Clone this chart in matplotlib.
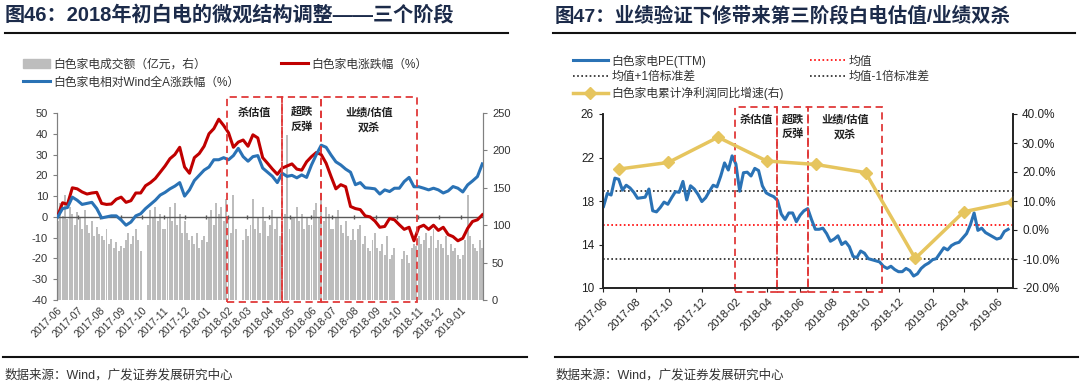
import numpy as np
import pandas as pd
import matplotlib
matplotlib.use('Agg')
import matplotlib.pyplot as plt
import matplotlib.dates as mdates
from matplotlib.patches import Rectangle, Patch
from matplotlib.lines import Line2D

plt.rcParams['font.family'] = ['Liberation Sans', 'Noto Sans CJK SC']
plt.rcParams['axes.unicode_minus'] = False

# ---------------- left chart data (weekly lines, twice-weekly bars) ----------------
red_vals = [0.5, 6.8, 6.0, 14.0, 13.5, 12.0, 11.0, 11.5, 11.8, 6.5,
            6.0, 6.2, 8.5, 9.5, 7.0, 7.8, 11.5, 11.5, 15.0, 16.5,
            18.5, 21.5, 24.5, 28.0, 30.0, 33.5, 24.0, 21.0, 28.5, 30.5,
            34.0, 40.0, 42.5, 47.0, 44.0, 40.5, 33.5, 36.0, 37.0, 34.0,
            39.5, 38.0, 28.5, 25.8, 23.0, 20.5, 23.5, 24.5, 25.5, 23.0,
            22.5, 26.5, 29.0, 31.0, 30.0, 25.8, 19.5, 13.5, 15.5, 14.5,
            5.0, 4.0, 3.5, 0.5, 0.0, -2.0, -5.0, -4.6, -0.8, -1.4,
            -3.8, -6.0, -5.0, -11.5, -5.0, -4.0, -6.0, -4.0, -6.5, -5.0,
            -8.5, -9.5, -11.5, -10.3, -5.5, -2.2, -1.4, 1.0]
blue_vals = [0.0, 4.0, 4.5, 9.5, 8.0, 6.0, 6.5, 7.0, 4.0, -0.5,
             0.0, 0.5, 0.5, -1.5, -4.0, -2.5, 0.5, 1.5, 4.0, 6.0,
             8.0, 10.5, 11.8, 13.5, 14.8, 16.5, 10.0, 13.0, 17.5, 20.0,
             22.5, 24.0, 27.5, 27.5, 28.5, 27.5, 29.5, 33.0, 29.0, 26.8,
             29.0, 29.5, 23.5, 21.5, 19.5, 16.5, 21.0, 19.5, 20.0, 18.8,
             20.2, 19.0, 25.0, 30.0, 34.5, 33.5, 29.8, 26.5, 25.0, 23.0,
             21.5, 15.5, 16.5, 14.0, 13.8, 13.5, 11.0, 13.0, 12.2, 13.8,
             13.8, 17.0, 19.0, 14.5, 14.5, 13.8, 13.0, 13.8, 13.0, 11.5,
             12.5, 14.6, 13.8, 12.0, 15.4, 17.3, 19.4, 25.5]
line_dates = pd.date_range('2017-06-02', periods=len(red_vals), freq='7D')

# turnover (亿元), two bars per week, 0 = holiday
bar_vals = (
    [105, 130, 112, 140, 108, 125, 115, 100, 118] +      # 2017-06
    [110, 95, 120, 100, 90, 105, 85, 98, 88] +           # 2017-07
    [85, 80, 95, 75, 82, 70, 78, 65] +                   # 2017-08
    [72, 70, 80, 90, 75, 85, 95, 80, 65] +               # 2017-09
    [0, 0, 100, 120, 110, 125, 105, 115, 95] +           # 2017-10
    [95, 110, 125, 105, 130, 100, 115, 90] +             # 2017-11
    [105, 90, 80, 85, 75, 90, 70, 80, 85] +              # 2017-12
    [78, 110, 120, 100, 130, 115, 125, 105, 135] +       # 2018-01
    [110, 90, 140, 95, 0, 0, 80, 95] +                   # 2018-02
    [85, 100, 135, 95, 110, 90, 125, 105, 85] +          # 2018-03
    [100, 120, 95, 110, 85, 100, 115, 220, 95] +         # 2018-04
    [110, 110, 125, 105, 115, 95, 110, 100] +            # 2018-05
    [100, 120, 130, 110, 140, 105, 125, 115, 95] +       # 2018-06
    [95, 110, 120, 100, 90, 105, 85, 80, 95] +           # 2018-07
    [80, 95, 100, 75, 85, 70, 65, 80, 90] +              # 2018-08
    [70, 65, 75, 60, 85, 55, 60, 70] +                   # 2018-09
    [0, 0, 55, 65, 60, 50, 70, 75, 72] +                 # 2018-10
    [85, 75, 80, 90, 70, 85, 95, 70, 80] +               # 2018-11
    [75, 70, 85, 60, 75, 65, 70, 60, 55] +               # 2018-12
    [60, 80, 140, 85, 75, 70, 65, 80] +                  # 2019-01
    [70])
bar_dates = pd.date_range('2017-06-02', periods=len(bar_vals), freq='84h')

stage_dates = pd.to_datetime(['2018-01-31', '2018-04-20', '2018-06-15', '2018-10-30'])
stage_names = ['杀估值', '超跌\n反弹', '业绩/估值\n双杀']

# ---------------- right chart data ----------------
pe_vals = [17.5, 18.7, 18.55, 20.1, 20.0, 19.0, 19.45, 19.2, 18.8, 18.25,
           18.3, 18.35, 19.1, 17.1, 17.0, 17.4, 17.9, 17.7, 18.3, 18.85,
           18.8, 19.8, 18.1, 19.4, 19.1, 18.6, 17.95, 18.3, 18.9, 19.45,
           19.3, 20.3, 21.5, 20.85, 22.15, 21.4, 18.9, 20.6, 20.65, 20.3,
           21.0, 20.8, 19.4, 18.75, 18.55, 18.4, 18.05, 16.8, 16.3, 16.9,
           16.9, 16.1, 16.7, 17.1, 17.3, 16.3, 15.4, 15.4, 15.5, 15.0,
           14.3, 14.5, 14.8, 14.0, 14.25, 13.8, 12.9, 12.8, 13.4, 13.2,
           12.7, 12.6, 12.5, 12.4, 12.0, 11.8, 12.0, 11.7, 11.5, 11.5,
           11.8, 11.6, 11.1, 11.3, 11.8, 12.1, 12.3, 12.6, 12.7, 13.2,
           13.7, 13.5, 13.9, 14.1, 14.2, 14.6, 15.0, 15.8, 16.9, 15.3,
           15.5, 15.1, 14.9, 14.7, 14.5, 14.6, 15.2, 15.4]
pe_dates = pd.date_range('2017-06-02', periods=len(pe_vals), freq='7D')
pe_mean = 15.8
pe_std = 3.15

growth_dates = pd.to_datetime(['2017-06-30', '2017-09-30', '2017-12-31', '2018-03-31',
                               '2018-06-30', '2018-09-30', '2018-12-31', '2019-03-31',
                               '2019-06-30'])
growth_vals = [21.0, 23.3, 32.0, 23.8, 22.6, 19.8, -9.8, 6.3, 9.8]

RED = '#C00000'
BLUE = '#2A72B5'
GRAY = '#BDBDBD'
YELLOW = '#E6C55E'
BOX = '#E03A3A'
TITLE = '#1C2B4A'

fig = plt.figure(figsize=(10.8, 3.86), dpi=100)

# ================= left chart =================
axL = fig.add_axes([57 / 1080, 1 - 300 / 386, 426 / 1080, 187 / 386])
axR = axL.twinx()
axR.bar(bar_dates, bar_vals, width=2.8, color=GRAY, linewidth=0)
axL.set_zorder(axR.get_zorder() + 1)
axL.patch.set_visible(False)

axL.axhline(0, color='#595959', lw=1.0, zorder=1)
month_ticks = pd.date_range('2017-06-01', '2019-01-01', freq='MS')
axL.plot(month_ticks, np.zeros(len(month_ticks)), ls='none', marker='|',
         ms=3, color='#595959', zorder=1)
axL.plot(line_dates, red_vals, color=RED, lw=2.2, zorder=3)
axL.plot(line_dates, blue_vals, color=BLUE, lw=2.2, zorder=3)

axL.set_ylim(-40, 50)
axL.set_yticks(range(-40, 51, 10))
axR.set_ylim(0, 250)
axR.set_yticks(range(0, 251, 50))
axL.set_xlim(pd.Timestamp('2017-06-01'), pd.Timestamp('2019-02-02'))
axL.set_xticks(month_ticks)
axL.xaxis.set_major_formatter(mdates.DateFormatter('%Y-%m'))
for lab in axL.get_xticklabels():
    lab.set_rotation(45)
    lab.set_ha('right')
    lab.set_rotation_mode('anchor')
axL.tick_params(axis='x', length=0, pad=4, labelsize=7.5, colors='#333333')
axL.tick_params(axis='y', length=3, labelsize=8, colors='#333333', color='#808080')
axR.tick_params(axis='y', length=3, labelsize=8, colors='#333333', color='#808080')
for a in (axL, axR):
    a.spines['top'].set_visible(False)
    a.spines['bottom'].set_visible(False)
    a.spines['left'].set_color('#808080')
    a.spines['right'].set_color('#808080')

for k in range(3):
    x0 = mdates.date2num(stage_dates[k])
    x1 = mdates.date2num(stage_dates[k + 1])
    axL.add_patch(Rectangle((x0, -41), x1 - x0, 98.7, fill=False, ec=BOX, lw=1.3,
                            ls=(0, (4, 2.5)), clip_on=False, zorder=4))
    axL.text((x0 + x1) / 2, 53.0, stage_names[k], ha='center', va='top', fontsize=8,
             color='#222222', fontweight='bold', linespacing=1.5, clip_on=False)

hL = [Patch(color=GRAY), Line2D([], [], color=BLUE, lw=2.2), Line2D([], [], color=RED, lw=2.2)]
fig.legend(hL, ['白色家电成交额（亿元，右）', '白色家电相对Wind全A涨跌幅（%）', '白色家电涨跌幅（%）'],
           ncol=2, loc='upper left', bbox_to_anchor=(12 / 1080, 1 - 48 / 386), frameon=False,
           fontsize=8.5, handlelength=2.3, handletextpad=0.3, columnspacing=3.5,
           labelspacing=0.5, labelcolor='#333333')

# ================= right chart =================
ax = fig.add_axes([603 / 1080, 1 - 288 / 386, 410 / 1080, 174 / 386])
ax2 = ax.twinx()
ax.plot(pe_dates, pe_vals, color=BLUE, lw=2.2, zorder=3, label='白色家电PE(TTM)')
ax.axhline(pe_mean, color='#FF0000', lw=1.2, ls=(0, (1, 1.5)), label='均值')
ax.axhline(pe_mean + pe_std, color='#222222', lw=1.2, ls=(0, (1, 1.5)), label='均值+1倍标准差')
ax.axhline(pe_mean - pe_std, color='#222222', lw=1.2, ls=(0, (1, 1.5)), label='均值-1倍标准差')
ax2.plot(growth_dates, growth_vals, color=YELLOW, lw=2.5, marker='D', ms=6,
         label='白色家电累计净利润同比增速(右)')

ax.set_ylim(10, 26)
ax.set_yticks(range(10, 27, 4))
ax2.set_ylim(-20, 40)
ax2.set_yticks(range(-20, 41, 10))
ax2.yaxis.set_major_formatter(matplotlib.ticker.FuncFormatter(lambda v, p: f'{v:.1f}%'))
ax.set_xlim(pd.Timestamp('2017-06-01'), pd.Timestamp('2019-06-30'))
ax.set_xticks(pd.date_range('2017-06-01', '2019-06-01', freq='2MS'))
ax.xaxis.set_major_formatter(mdates.DateFormatter('%Y-%m'))
for lab in ax.get_xticklabels():
    lab.set_rotation(45)
    lab.set_ha('right')
    lab.set_rotation_mode('anchor')
ax.tick_params(axis='x', length=3, pad=3, labelsize=8, colors='#222222', color='#222222')
ax.tick_params(axis='y', length=3, labelsize=8.5, colors='#222222', color='#222222')
ax2.tick_params(axis='y', length=3, labelsize=8.5, colors='#222222', color='#222222')
for a in (ax, ax2):
    a.spines['top'].set_visible(False)
    for s in ('left', 'right', 'bottom'):
        a.spines[s].set_color('#222222')
        a.spines[s].set_linewidth(1.2)

for k in range(3):
    x0 = mdates.date2num(stage_dates[k])
    x1 = mdates.date2num(stage_dates[k + 1])
    ax.add_patch(Rectangle((x0, 9.63), x1 - x0, 17.0, fill=False, ec=BOX, lw=1.3,
                           ls=(0, (4, 2.5)), clip_on=False, zorder=4))
    ax.text((x0 + x1) / 2, 26.0, stage_names[k], ha='center', va='top', fontsize=8,
            color='#222222', fontweight='bold', linespacing=1.5, clip_on=False)

h1, l1 = ax.get_legend_handles_labels()
h2, l2 = ax2.get_legend_handles_labels()
order = [0, 2, 4, 1, 3]
hh = (h1 + h2)
ll = (l1 + l2)
fig.legend([hh[i] for i in order], [ll[i] for i in order], ncol=2, loc='upper left',
           bbox_to_anchor=(562 / 1080, 1 - 44 / 386), frameon=False, fontsize=8.5,
           handlelength=3.0, handletextpad=0.3, columnspacing=2.2, labelspacing=0.3,
           labelcolor='#333333')

# ================= titles, rules, footers =================
fig.text(5 / 1080, 1 - 16 / 386, '图46：2018年初白电的微观结构调整——三个阶段', fontsize=14.5,
         fontweight='bold', color=TITLE, va='center', ha='left')
fig.text(555 / 1080, 1 - 16 / 386, '图47：业绩验证下修带来第三阶段白电估值/业绩双杀', fontsize=14,
         fontweight='bold', color=TITLE, va='center', ha='left')
for x0, x1 in ((5, 508), (553, 1075)):
    fig.add_artist(Line2D([x0 / 1080, x1 / 1080], [1 - 33 / 386] * 2, color='#111111', lw=1.5))
for x0, x1 in ((3, 527), (555, 1078)):
    fig.add_artist(Line2D([x0 / 1080, x1 / 1080], [1 - 357 / 386] * 2, color='#111111', lw=1.5))
fig.text(5 / 1080, 1 - 375 / 386, '数据来源：Wind，广发证券发展研究中心', fontsize=9,
         color='#333333', va='center')
fig.text(556 / 1080, 1 - 375 / 386, '数据来源：Wind，广发证券发展研究中心', fontsize=9,
         color='#333333', va='center')

fig.savefig('out.png', dpi=100)
